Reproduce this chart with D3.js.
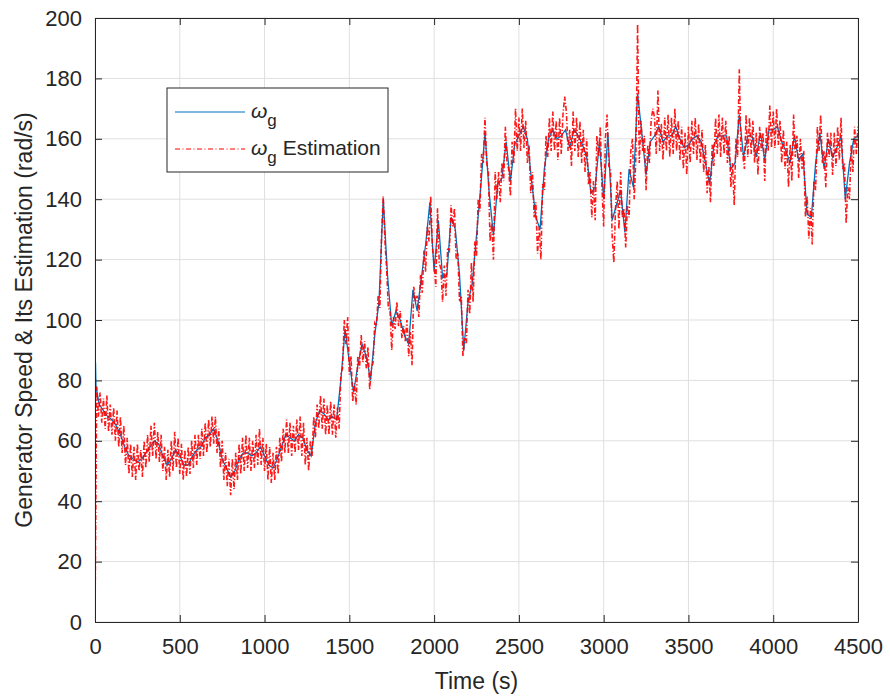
<!DOCTYPE html>
<html>
<head>
<meta charset="utf-8">
<script src="https://cdn.jsdelivr.net/npm/d3@7"></script>
<style>
  body { margin: 0; background: #fff; }
  svg text { font-family: "Liberation Sans", Arial, sans-serif; fill: #262626; }
</style>
</head>
<body>
<svg id="chart" width="890" height="697"></svg>
<script>
// generator speed (blue), first seconds of start-up
const startTime = [0, 3, 6];
const startSpeed = [8, 86, 78];
// generator speed (blue), sampled every 25 s from t = 0
const speedStep = 25;
const speed = [
  75, 72, 70, 68, 67, 65, 62, 58, 55, 54, 53, 54, 56, 58, 60, 59, 55, 52, 54, 57,
  55, 52, 52, 55, 57, 58, 61, 62, 64, 60, 54, 51, 48, 50, 54, 56, 56, 55, 56, 58,
  55, 52, 51, 54, 58, 62, 61, 60, 62, 61, 57, 55, 66, 70, 69, 67, 68, 67, 80, 97,
  86, 76, 85, 92, 88, 80, 95, 106, 140, 115, 98, 103, 100, 95, 92, 110, 103, 114, 125, 139,
  116, 133, 114, 115, 134, 130, 115, 90, 106, 112, 128, 144, 162, 142, 128, 145, 147, 159, 146, 158,
  161, 164, 160, 146, 134, 130, 150, 160, 163, 160, 161, 163, 157, 163, 161, 158, 154, 142, 144, 159,
  140, 162, 133, 138, 143, 129, 150, 144, 175, 162, 148, 159, 161, 164, 159, 161, 161, 164, 160, 157,
  158, 160, 161, 159, 152, 145, 158, 161, 161, 161, 150, 152, 168, 154, 161, 161, 154, 162, 153, 163,
  163, 164, 159, 156, 152, 161, 153, 155, 135, 134, 152, 162, 150, 160, 154, 157, 161, 140, 152, 160,
  161
];
// estimated speed (red), sampled every 10 s from t = 0
const estStep = 10;
const estimation = [
  0, 78, 68, 76, 66, 74, 64, 75, 63, 72,
  62, 71, 60, 70, 58, 68, 56, 65, 52, 61,
  49, 59, 48, 58, 47, 59, 50, 57, 48, 60,
  51, 62, 53, 65, 55, 66, 54, 63, 53, 62,
  50, 58, 47, 57, 48, 60, 50, 63, 51, 61,
  49, 59, 47, 57, 48, 58, 49, 60, 51, 62,
  52, 62, 54, 64, 55, 66, 56, 67, 58, 68,
  59, 68, 56, 64, 51, 60, 47, 56, 45, 54,
  42, 54, 44, 56, 47, 59, 49, 61, 50, 62,
  51, 61, 50, 60, 51, 62, 52, 64, 52, 61,
  50, 59, 47, 58, 46, 56, 47, 58, 49, 61,
  53, 64, 56, 67, 56, 66, 55, 65, 56, 67,
  57, 68, 55, 66, 52, 61, 50, 60, 55, 68,
  61, 72, 64, 75, 64, 74, 62, 72, 62, 73,
  62, 72, 61, 71, 64, 82, 84, 100, 92, 101,
  82, 88, 73, 79, 72, 88, 84, 95, 86, 93,
  84, 91, 77, 84, 86, 99, 98, 108, 104, 128,
  141, 126, 117, 104, 103, 90, 101, 97, 106, 98,
  103, 94, 98, 93, 100, 88, 96, 85, 111, 106,
  108, 101, 115, 109, 123, 116, 131, 126, 141, 124,
  119, 111, 137, 119, 117, 106, 118, 108, 124, 123,
  138, 131, 137, 120, 122, 106, 108, 88, 94, 92,
  110, 102, 119, 106, 126, 121, 140, 136, 155, 152,
  167, 152, 149, 126, 132, 120, 149, 140, 149, 139,
  152, 146, 164, 152, 150, 141, 159, 152, 170, 156,
  167, 156, 170, 157, 166, 152, 158, 142, 149, 134,
  139, 122, 131, 120, 145, 143, 161, 154, 167, 156,
  169, 156, 166, 153, 167, 155, 168, 174, 169, 156,
  163, 151, 169, 156, 167, 154, 166, 152, 163, 149,
  160, 145, 149, 134, 146, 133, 161, 154, 164, 144,
  131, 160, 168, 151, 150, 128, 119, 137, 146, 130,
  149, 134, 137, 124, 138, 134, 156, 160, 140, 154,
  198, 152, 166, 156, 161, 143, 158, 152, 166, 170,
  167, 155, 176, 156, 165, 153, 167, 156, 168, 154,
  167, 155, 170, 156, 166, 153, 164, 150, 162, 148,
  164, 152, 166, 155, 167, 153, 165, 152, 163, 149,
  158, 142, 151, 139, 158, 151, 167, 155, 168, 154,
  167, 155, 166, 152, 161, 144, 152, 138, 160, 154,
  183, 156, 155, 150, 168, 154, 167, 155, 166, 152,
  162, 148, 164, 156, 162, 146, 164, 156, 171, 157,
  169, 157, 170, 158, 166, 152, 163, 150, 159, 144,
  158, 146, 168, 154, 161, 147, 160, 150, 156, 134,
  141, 127, 137, 125, 146, 143, 164, 156, 168, 152,
  156, 144, 162, 154, 162, 148, 162, 151, 164, 153,
  167, 150, 152, 132, 144, 140, 158, 149, 164, 155,
  164
];
const xTicks = [0, 500, 1000, 1500, 2000, 2500, 3000, 3500, 4000, 4500];
const yTicks = [0, 20, 40, 60, 80, 100, 120, 140, 160, 180, 200];

const svg = d3.select('#chart');
const margin = { top: 18, bottom: 75, left: 95, right: 32 };
const width = 890, height = 697;

const xScale = d3.scaleLinear().domain([0, 4500]).range([margin.left, width - margin.right]);
const yScale = d3.scaleLinear().domain([0, 200]).range([height - margin.bottom, margin.top]);

const blueData = startTime.map((t, i) => [t, startSpeed[i]])
  .concat(speed.slice(1).map((v, i) => [(i + 1) * speedStep, v]));
const redData = estimation.map((v, i) => [i * estStep, v]);

// grid
svg.append('g').selectAll('line').data(xTicks).enter().append('line')
  .attr('x1', d => xScale(d)).attr('x2', d => xScale(d))
  .attr('y1', yScale(0)).attr('y2', yScale(200))
  .attr('stroke', '#dfdfdf').attr('stroke-width', 1);
svg.append('g').selectAll('line').data(yTicks).enter().append('line')
  .attr('y1', d => yScale(d)).attr('y2', d => yScale(d))
  .attr('x1', xScale(0)).attr('x2', xScale(4500))
  .attr('stroke', '#dfdfdf').attr('stroke-width', 1);

svg.append('clipPath').attr('id', 'plotclip').append('rect')
  .attr('x', xScale(0)).attr('y', yScale(200))
  .attr('width', xScale(4500) - xScale(0)).attr('height', yScale(0) - yScale(200));

const line = d3.line().x(d => xScale(d[0])).y(d => yScale(d[1]));
const plot = svg.append('g').attr('clip-path', 'url(#plotclip)');
plot.append('path').datum(blueData)
  .attr('d', line).attr('fill', 'none')
  .attr('stroke', '#0072bd').attr('stroke-width', 1.3);
plot.append('path').datum(redData)
  .attr('d', line).attr('fill', 'none')
  .attr('stroke', '#ff0000').attr('stroke-width', 1.6).attr('stroke-opacity', 0.9)
  .attr('stroke-dasharray', '5,2,1.2,2');

// axes with inward ticks on all four sides
const axisColor = '#262626';
const tickLen = 7;
const fmt = d3.format('d');
const axisB = svg.append('g').attr('transform', `translate(0,${yScale(0)})`)
  .call(d3.axisBottom(xScale).tickValues(xTicks).tickFormat(fmt).tickSizeInner(-tickLen).tickSizeOuter(0).tickPadding(16));
const axisL = svg.append('g').attr('transform', `translate(${xScale(0)},0)`)
  .call(d3.axisLeft(yScale).tickValues(yTicks).tickFormat(fmt).tickSizeInner(-tickLen).tickSizeOuter(0).tickPadding(13));
const axisT = svg.append('g').attr('transform', `translate(0,${yScale(200)})`)
  .call(d3.axisTop(xScale).tickValues(xTicks).tickSizeInner(-tickLen).tickSizeOuter(0).tickFormat(''));
const axisR = svg.append('g').attr('transform', `translate(${xScale(4500)},0)`)
  .call(d3.axisRight(yScale).tickValues(yTicks).tickSizeInner(-tickLen).tickSizeOuter(0).tickFormat(''));
[axisB, axisL, axisT, axisR].forEach(a => {
  a.selectAll('.domain').attr('stroke', axisColor).attr('stroke-width', 1);
  a.selectAll('.tick line').attr('stroke', axisColor);
  a.selectAll('.tick text').attr('font-size', 22).attr('fill', axisColor)
    .style('font-family', '"Liberation Sans", Arial, sans-serif');
});

svg.append('text')
  .attr('x', (xScale(0) + xScale(4500)) / 2).attr('y', 689)
  .attr('text-anchor', 'middle').attr('font-size', 23)
  .text('Time (s)');
svg.append('text')
  .attr('transform', `translate(32,${(yScale(0) + yScale(200)) / 2}) rotate(-90)`)
  .attr('text-anchor', 'middle').attr('font-size', 23)
  .text('Generator Speed & Its Estimation (rad/s)');

// legend
const legend = svg.append('g').attr('transform', 'translate(167,88)');
legend.append('rect').attr('width', 221).attr('height', 84)
  .attr('fill', '#fff').attr('stroke', axisColor).attr('stroke-width', 1);
const entries = [
  { label: '', color: '#0072bd', dash: null, y: 24 },
  { label: ' Estimation', color: '#ff0000', dash: '5,2.5,1,2.5', y: 61 }
];
entries.forEach(e => {
  legend.append('line').attr('x1', 8).attr('x2', 78).attr('y1', e.y).attr('y2', e.y)
    .attr('stroke', e.color).attr('stroke-width', 1.2)
    .attr('stroke-dasharray', e.dash);
  const t = legend.append('text').attr('x', 84).attr('y', e.y + 6).attr('font-size', 21);
  t.append('tspan').attr('font-style', 'italic').text('ω');
  t.append('tspan').attr('dy', 8).attr('font-size', 17).text('g');
  if (e.label) t.append('tspan').attr('dy', -8).text(e.label);
});
</script>
</body>
</html>
